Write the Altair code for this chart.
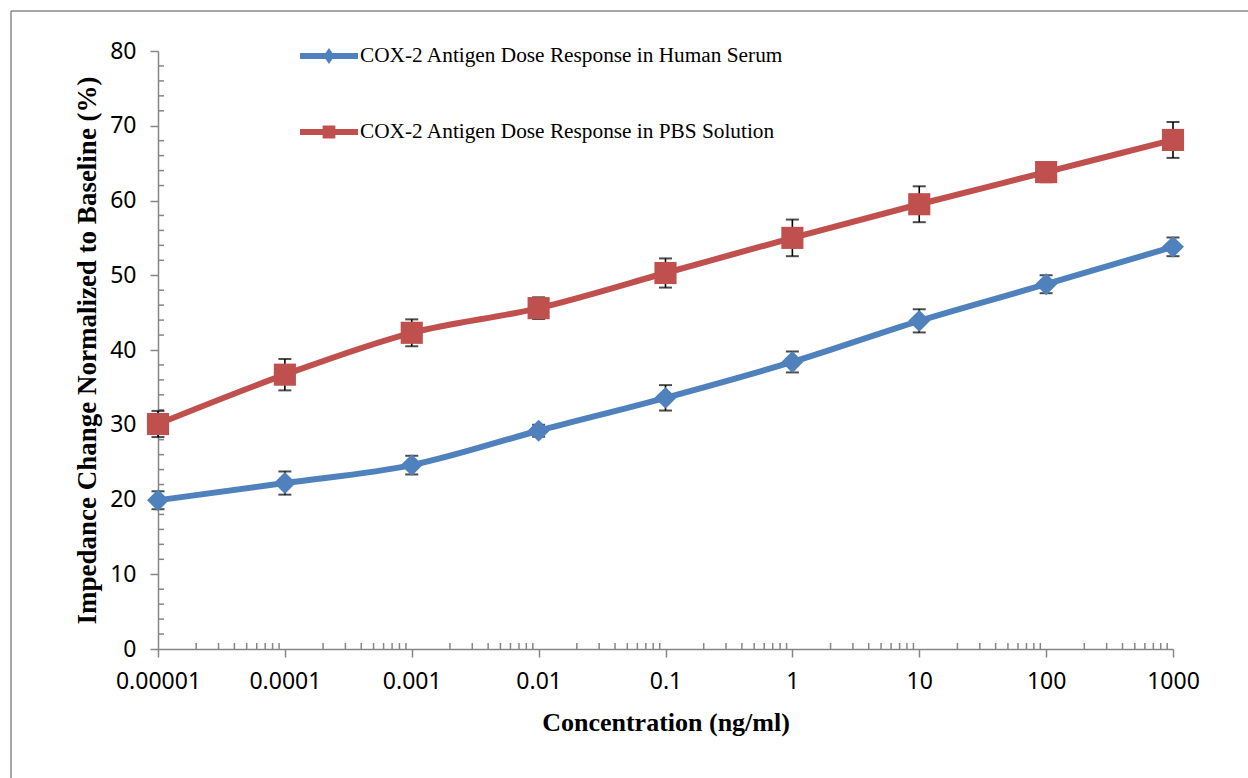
import altair as alt
import pandas as pd

# ---- data ----
concentrations = [1e-5, 1e-4, 1e-3, 1e-2, 1e-1, 1.0, 10.0, 100.0, 1000.0]
serum_values = [19.9, 22.2, 24.6, 29.2, 33.6, 38.4, 43.9, 48.8, 53.8]
serum_errors = [1.2, 1.55, 1.25, 0.8, 1.7, 1.4, 1.55, 1.2, 1.25]
pbs_values = [30.1, 36.7, 42.3, 45.6, 50.3, 55.0, 59.5, 63.8, 68.1]
pbs_errors = [1.75, 2.1, 1.8, 1.45, 1.95, 2.45, 2.4, 1.35, 2.4]

serum_name = "COX-2 Antigen Dose Response in Human Serum"
pbs_name = "COX-2 Antigen Dose Response in PBS Solution"
series_names = [serum_name, pbs_name]
series_colors = ["#4F81BD", "#C0504D"]

x_tick_values = [1e-5, 1e-4, 1e-3, 1e-2, 1e-1, 1.0, 10.0, 100.0, 1000.0]
y_tick_values = [0, 10, 20, 30, 40, 50, 60, 70, 80]
x_minor_values = [k * d for d in [1e-5, 1e-4, 1e-3, 1e-2, 1e-1, 1.0, 10.0, 100.0] for k in range(2, 10)]
y_minor_values = [v for v in range(2, 80, 2) if v % 10 != 0]

rows = []
for name, vals, errs in [(serum_name, serum_values, serum_errors), (pbs_name, pbs_values, pbs_errors)]:
    for c, v, e in zip(concentrations, vals, errs):
        rows.append({"conc": c, "value": v, "lo": v - e, "hi": v + e, "series": name})
df = pd.DataFrame(rows)

W, H = 1015, 598
AX = "#868686"

xscale = alt.Scale(type="log", domain=[1e-5, 1000])
yscale = alt.Scale(domain=[0, 80], nice=False, zero=True)
cscale = alt.Scale(domain=series_names, range=series_colors)

serum_path = "M-1,-0.1L1,-0.1L1,0.1L-1,0.1Z M0,-0.28L0.19,0L0,0.28L-0.19,0Z"
pbs_path = "M-1,-0.1L1,-0.1L1,0.1L-1,0.1Z M-0.22,-0.22L0.22,-0.22L0.22,0.22L-0.22,0.22Z"
sscale = alt.Scale(domain=series_names, range=[serum_path, pbs_path])

x_axis = alt.Axis(
    values=x_tick_values, format="~f", grid=False,
    tickSize=8, tickWidth=1.5, tickColor=AX, domainColor=AX, domainWidth=1.5,
    labelFont="Noto Sans", labelFontSize=23, labelColor="black", labelPadding=13,
    labelFlush=False, labelOverlap=False,
    title="Concentration (ng/ml)", titleFont="Liberation Serif", titleFontSize=26,
    titleFontWeight="bold", titleColor="black", titlePadding=16,
)
y_axis = alt.Axis(
    values=y_tick_values, grid=False,
    tickSize=8, tickWidth=1.5, tickColor=AX, domainColor=AX, domainWidth=1.5,
    labelFont="Noto Sans", labelFontSize=23, labelColor="black", labelPadding=14,
    title="Impedance Change Normalized to Baseline (%)", titleFont="Liberation Serif",
    titleFontSize=27, titleFontWeight="bold", titleColor="black", titlePadding=8,
)

base = alt.Chart(df)

X = alt.X("conc:Q", scale=xscale, axis=x_axis)
Y = alt.Y("value:Q", scale=yscale, axis=y_axis)
Xn = alt.X("conc:Q", scale=xscale)

err_rule = base.mark_rule(color="black", strokeWidth=1.6).encode(
    x=Xn, y=alt.Y("lo:Q", scale=yscale), y2="hi:Q"
)
cap_lo = base.mark_tick(color="black", orient="horizontal", size=13, thickness=2).encode(
    x=Xn, y=alt.Y("lo:Q", scale=yscale)
)
cap_hi = base.mark_tick(color="black", orient="horizontal", size=13, thickness=2).encode(
    x=Xn, y=alt.Y("hi:Q", scale=yscale)
)

serum_df = base.transform_filter(alt.datum.series == serum_name)
pbs_df = base.transform_filter(alt.datum.series == pbs_name)

line_serum = serum_df.mark_line(strokeWidth=6, interpolate="monotone", color=series_colors[0]).encode(x=X, y=Y)
line_pbs = pbs_df.mark_line(strokeWidth=6, interpolate="monotone", color=series_colors[1]).encode(x=X, y=Y)
pts_serum = serum_df.mark_point(shape="diamond", filled=True, size=480, opacity=1,
                                color=series_colors[0]).encode(x=X, y=Y)
pts_pbs = pbs_df.mark_point(shape="square", filled=True, size=490, opacity=1,
                            color=series_colors[1]).encode(x=X, y=Y)

legend = alt.Legend(
    title=None, orient="none", legendX=142, legendY=-24, padding=0,
    symbolSize=3364, symbolStrokeWidth=0, symbolOpacity=1, rowPadding=36,
    labelFont="Liberation Serif", labelFontSize=21.3, labelColor="black",
    labelLimit=700, labelOffset=2, direction="vertical",
)
legend_layer = base.transform_filter("false").mark_point(filled=True, opacity=1).encode(
    x=X, y=Y,
    color=alt.Color("series:N", scale=cscale, legend=legend),
    shape=alt.Shape("series:N", scale=sscale, legend=legend),
)

# minor ticks (inside the plot area)
xminor = alt.Chart(pd.DataFrame({"m": x_minor_values})).mark_rule(color=AX, strokeWidth=1.5).encode(
    x=alt.X("m:Q", scale=xscale), y=alt.value(H), y2=alt.value(H - 6)
)
yminor = alt.Chart(pd.DataFrame({"m": y_minor_values})).mark_rule(color=AX, strokeWidth=1.5).encode(
    y=alt.Y("m:Q", scale=yscale), x=alt.value(0), x2=alt.value(6)
)

# outer frame (left and top edges, as in the reference)
frame_df = pd.DataFrame({"a": [0]})
frame_left = alt.Chart(frame_df).mark_rule(color="#8a8a8a", strokeWidth=1.5).encode(
    x=alt.value(-147), y=alt.value(-40), y2=alt.value(740)
)
frame_top = alt.Chart(frame_df).mark_rule(color="#8a8a8a", strokeWidth=1.5).encode(
    x=alt.value(-147), x2=alt.value(1100), y=alt.value(-40)
)

chart = alt.layer(
    frame_left, frame_top, xminor, yminor,
    err_rule, cap_lo, cap_hi, line_serum, line_pbs, pts_serum, pts_pbs, legend_layer,
).properties(
    width=W, height=H,
    autosize=alt.AutoSizeParams(type="none"),
    padding={"left": 158, "top": 51, "right": 75, "bottom": 129},
    background="white",
).configure_view(stroke=None)

chart.save("out.html", embed_options={"renderer": "svg", "actions": False})
